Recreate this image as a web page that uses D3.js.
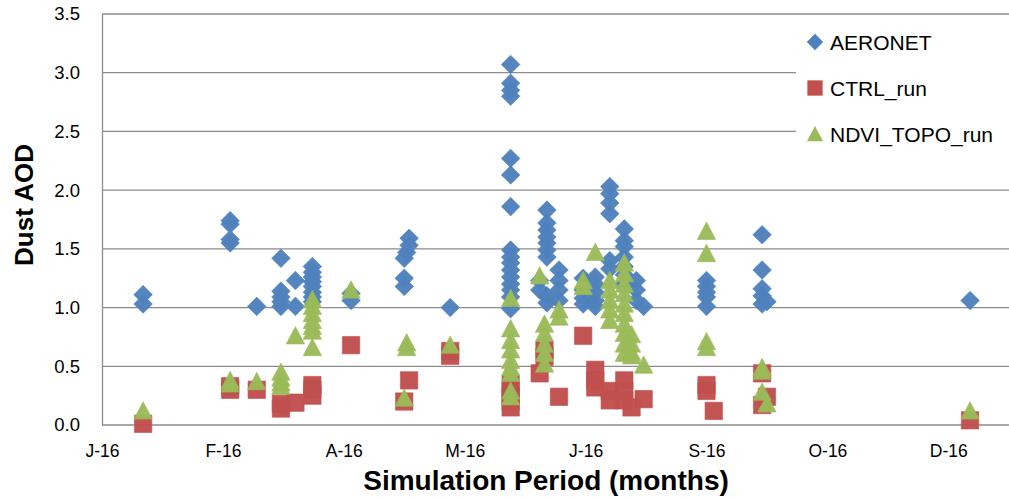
<!DOCTYPE html>
<html><head><meta charset="utf-8">
<script src="https://cdn.jsdelivr.net/npm/d3@7"></script>
<style>
body{margin:0;background:#fff;}
svg{display:block;}
</style></head>
<body>
<svg id="chart" width="1009" height="498"></svg>
<script>
// ---- data ----
const xTickLabels = ["J-16","F-16","A-16","M-16","J-16","S-16","O-16","D-16"];
const yTicks = [0,0.5,1.0,1.5,2.0,2.5,3.0,3.5];
const seriesNames = ["AERONET","CTRL_run","NDVI_TOPO_run"];

const aeronet = [
 ["2016-01-18",1.11],["2016-01-18",1.03],
 ["2016-02-23",1.74],["2016-02-23",1.71],["2016-02-23",1.58],["2016-02-23",1.55],
 ["2016-03-05",1.01],
 ["2016-03-15",1.42],["2016-03-15",1.14],["2016-03-15",1.09],["2016-03-15",1.05],["2016-03-15",1.01],
 ["2016-03-21",1.23],["2016-03-21",1.01],
 ["2016-03-28",1.35],["2016-03-28",1.30],["2016-03-28",1.26],["2016-03-28",1.22],["2016-03-28",1.18],["2016-03-28",1.13],["2016-03-28",1.09],["2016-03-28",1.05],
 ["2016-04-13",1.12],["2016-04-13",1.06],
 ["2016-05-05",1.42],["2016-05-05",1.25],["2016-05-05",1.18],["2016-05-07",1.59],["2016-05-07",1.53],["2016-05-06",1.47],
 ["2016-05-24",1.00],
 ["2016-06-18",3.07],["2016-06-18",2.91],["2016-06-18",2.85],["2016-06-18",2.80],["2016-06-18",2.27],["2016-06-18",2.13],["2016-06-18",1.86],
 ["2016-06-18",1.49],["2016-06-18",1.43],["2016-06-18",1.38],["2016-06-18",1.32],["2016-06-18",1.26],["2016-06-18",1.20],["2016-06-18",1.15],["2016-06-18",1.09],["2016-06-18",0.99],
 ["2016-06-30",1.23],["2016-06-30",1.15],
 ["2016-07-03",1.83],["2016-07-03",1.72],["2016-07-03",1.66],["2016-07-03",1.60],["2016-07-03",1.55],["2016-07-03",1.49],["2016-07-03",1.43],["2016-07-03",1.10],["2016-07-03",1.04],
 ["2016-07-08",1.32],["2016-07-08",1.23],["2016-07-08",1.15],["2016-07-08",1.06],
 ["2016-07-18",1.25],["2016-07-18",1.15],["2016-07-18",1.08],["2016-07-18",1.03],
 ["2016-07-23",1.26],["2016-07-23",1.20],["2016-07-23",1.13],["2016-07-23",1.06],["2016-07-23",1.01],
 ["2016-07-29",2.03],["2016-07-29",1.97],["2016-07-29",1.89],["2016-07-29",1.80],["2016-07-29",1.40],["2016-07-29",1.33],
 ["2016-08-04",1.67],["2016-08-04",1.57],["2016-08-04",1.52],["2016-08-04",1.43],["2016-08-04",1.35],["2016-08-04",1.28],["2016-08-04",1.20],
 ["2016-08-09",1.23],["2016-08-09",1.15],["2016-08-09",1.06],
 ["2016-08-12",1.01],
 ["2016-09-07",1.23],["2016-09-07",1.18],["2016-09-07",1.13],["2016-09-07",1.09],["2016-09-07",1.01],
 ["2016-09-30",1.62],["2016-09-30",1.32],["2016-09-30",1.16],["2016-09-30",1.10],["2016-09-30",1.03],["2016-10-02",1.05],
 ["2016-12-25",1.06]
];

const ctrl = [
 ["2016-01-18",0.01],
 ["2016-02-23",0.33],["2016-02-23",0.30],
 ["2016-03-05",0.30],
 ["2016-03-15",0.18],["2016-03-15",0.14],
 ["2016-03-21",0.19],
 ["2016-03-28",0.34],["2016-03-28",0.30],["2016-03-28",0.25],
 ["2016-04-13",0.68],
 ["2016-05-07",0.38],["2016-05-05",0.20],
 ["2016-05-24",0.63],["2016-05-24",0.59],
 ["2016-06-18",0.35],["2016-06-18",0.29],["2016-06-18",0.24],["2016-06-18",0.20],["2016-06-18",0.15],
 ["2016-06-30",0.44],
 ["2016-07-02",0.64],["2016-07-02",0.58],
 ["2016-07-08",0.24],
 ["2016-07-18",0.76],
 ["2016-07-23",0.47],["2016-07-23",0.38],["2016-07-23",0.32],
 ["2016-07-29",0.29],["2016-07-29",0.21],
 ["2016-08-04",0.38],["2016-08-04",0.29],["2016-08-04",0.21],["2016-08-07",0.15],
 ["2016-08-12",0.22],
 ["2016-09-07",0.34],["2016-09-07",0.29],["2016-09-10",0.12],
 ["2016-09-30",0.44],["2016-09-30",0.17],["2016-10-02",0.24],
 ["2016-12-25",0.04]
];

const ndvi = [
 ["2016-01-18",0.12],
 ["2016-02-23",0.38],["2016-02-23",0.35],
 ["2016-03-05",0.37],
 ["2016-03-15",0.45],["2016-03-15",0.40],["2016-03-15",0.36],["2016-03-15",0.33],
 ["2016-03-21",0.76],
 ["2016-03-28",1.07],["2016-03-28",1.01],["2016-03-28",0.95],["2016-03-28",0.89],["2016-03-28",0.84],["2016-03-28",0.80],["2016-03-28",0.66],
 ["2016-04-13",1.15],
 ["2016-05-06",0.70],["2016-05-06",0.66],["2016-05-05",0.23],
 ["2016-05-24",0.68],
 ["2016-06-18",1.08],["2016-06-18",0.82],["2016-06-18",0.72],["2016-06-18",0.64],["2016-06-18",0.55],["2016-06-18",0.49],["2016-06-18",0.44],["2016-06-18",0.29],["2016-06-18",0.24],
 ["2016-06-30",1.27],
 ["2016-07-02",0.86],["2016-07-02",0.78],["2016-07-02",0.69],["2016-07-02",0.61],["2016-07-02",0.52],
 ["2016-07-08",0.98],["2016-07-08",0.92],
 ["2016-07-18",1.23],["2016-07-18",1.18],
 ["2016-07-23",1.47],
 ["2016-07-29",1.23],["2016-07-29",1.15],["2016-07-29",1.06],["2016-07-29",0.98],["2016-07-29",0.89],
 ["2016-08-04",1.38],["2016-08-04",1.29],["2016-08-04",1.20],["2016-08-04",1.12],["2016-08-04",1.03],["2016-08-04",0.95],["2016-08-04",0.86],["2016-08-04",0.78],["2016-08-04",0.69],["2016-08-04",0.61],
 ["2016-08-07",0.77],["2016-08-07",0.69],["2016-08-07",0.62],["2016-08-07",0.59],
 ["2016-08-12",0.51],
 ["2016-09-07",1.65],["2016-09-07",1.46],["2016-09-07",0.71],["2016-09-07",0.66],
 ["2016-09-30",0.49],["2016-09-30",0.46],["2016-09-30",0.28],["2016-10-02",0.18],
 ["2016-12-25",0.12]
];

// ---- layout ----
const svg = d3.select("#chart");
const plotLeft = 102, plotTop = 14, plotBottom = 425;
const parse = d3.timeParse("%Y-%m-%d");
const start = parse("2016-01-01");
const dayMs = 864e5;
const endDate = new Date(start.getTime() + 400*dayMs);
const x = d3.scaleTime().domain([start, endDate]).range([plotLeft, plotLeft + 400*2.418]);
const y = d3.scaleLinear().domain([0,3.5]).range([plotBottom, plotTop]);
const plotRight = 1069;
const gridColor = "#8c8c8c";
const font = "'Liberation Sans', Arial, sans-serif";

// gridlines
svg.append("g").selectAll("line").data(yTicks.filter(d=>d>0)).join("line")
  .attr("x1", plotLeft).attr("x2", plotRight)
  .attr("y1", d=>y(d)).attr("y2", d=>y(d))
  .attr("stroke", gridColor).attr("stroke-width", 1.3);

// axes
const xTickDates = xTickLabels.map((d,i)=> new Date(start.getTime() + i*50*dayMs));
const xAxis = d3.axisBottom(x).tickValues(xTickDates)
  .tickFormat((d,i)=>xTickLabels[i]).tickSize(0).tickPadding(20);
const gx = svg.append("g").attr("transform", `translate(0,${plotBottom})`).call(xAxis);
gx.select(".domain").attr("stroke", gridColor).attr("stroke-width",1.3).attr("d", `M${plotLeft},0H${plotRight}`);
gx.selectAll("text").attr("font-family", font).attr("font-size", 17.5).attr("fill","#000");

const yAxis = d3.axisLeft(y).tickValues(yTicks).tickFormat(d3.format(".1f")).tickSize(0).tickPadding(22);
const gy = svg.append("g").attr("transform", `translate(${plotLeft},0)`).call(yAxis);
gy.select(".domain").attr("stroke", gridColor).attr("stroke-width",1.3);
gy.selectAll("text").attr("font-family", font).attr("font-size", 18.5).attr("fill","#000");

// markers
const diamond = "M0,-9.3L9.3,0L0,9.3L-9.3,0Z";
const square = "M-8.7,-8.7H8.7V8.7H-8.7Z";
const triangle = "M0,-9.2L9.2,8.2L-9.2,8.2Z";
const colors = ["#4F81BD","#C0504D","#9BBB59"];
const shapes = [diamond, square, triangle];
[aeronet, ctrl, ndvi].forEach((data, k)=>{
  svg.append("g").selectAll("path").data(data).join("path")
    .attr("d", shapes[k])
    .attr("transform", d=>`translate(${x(parse(d[0]))},${y(d[1])})`)
    .attr("fill", colors[k]).attr("fill-opacity",0.97)
    .attr("stroke", colors[k]).attr("stroke-width",0.6);
});

// legend
const lg = svg.append("g");
lg.append("rect").attr("x",796).attr("y",22).attr("width",240).attr("height",140).attr("fill","#fff");
seriesNames.forEach((n,i)=>{
  const cy = 42 + i*46;
  lg.append("path").attr("d", shapes[i]).attr("transform",`translate(815,${cy}) scale(0.88)`).attr("fill", colors[i]);
  lg.append("text").attr("x",830).attr("y",cy).attr("dy","0.36em")
    .attr("font-family",font).attr("font-size",21).text(n);
});

// axis titles
svg.append("text").attr("x", 546).attr("y", 490).attr("text-anchor","middle")
  .attr("font-family",font).attr("font-weight","bold").attr("font-size",28).text("Simulation Period (months)");
svg.append("text").attr("transform","translate(33,205) rotate(-90)").attr("text-anchor","middle")
  .attr("font-family",font).attr("font-weight","bold").attr("font-size",26).text("Dust AOD");
</script>
</body></html>
